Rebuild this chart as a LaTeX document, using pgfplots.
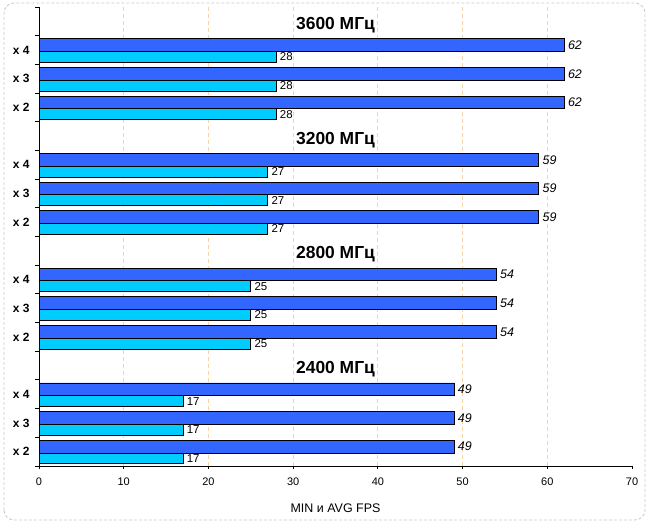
\documentclass[border=0pt]{standalone}
\usepackage{pgfplots}
\pgfplotsset{compat=1.18}
\usepackage{fontspec}
\setmainfont{Liberation Sans}
\definecolor{avgblue}{HTML}{3366FF}
\definecolor{mincyan}{HTML}{00CCFF}
\definecolor{gridor}{HTML}{F8D4A4}
\definecolor{framegray}{HTML}{C8C8C8}

\begin{document}
\begin{tikzpicture}
\path[use as bounding box] (-39bp,-58bp) rectangle (609bp,466bp);
\draw[framegray, line width=0.8bp, dash pattern=on 3bp off 2bp, rounded corners=10bp]
  (-35bp,-54bp) rectangle (606bp,463bp);
\begin{axis}[
  at={(0,0)}, anchor=south west,
  scale only axis, width=593bp, height=459bp,
  xbar,
  xmin=0, xmax=70, ymin=-0.5, ymax=15.5,
  axis x line*=bottom, axis y line*=left,
  axis line style={-, line width=0.9bp},
  tick align=outside,
  major tick length=3bp, minor tick length=4bp,
  tick style={black, line width=0.9bp},
  xtick={0,10,...,70},
  extra x ticks={10,20,...,60},
  extra x tick labels={},
  extra x tick style={grid=major, major tick length=0pt},
  major grid style={gridor, line width=0.9bp, dash pattern=on 4bp off 3bp},
  ytick={0,1,2,4,5,6,8,9,10,12,13,14},
  yticklabels={x 2,x 3,x 4,x 2,x 3,x 4,x 2,x 3,x 4,x 2,x 3,x 4},
  minor ytick={-0.5,0.5,...,15.5},
  ytick style={draw=none},
  minor y tick style={draw=black},
  yticklabel style={font=\bfseries\fontsize{12}{14}\selectfont, xshift=-3bp},
  xticklabel style={font=\fontsize{11}{13}\selectfont, yshift=-5bp},
  /pgf/number format/assume math mode=true,
  xlabel={MIN и AVG FPS},
  xlabel style={font=\fontsize{12.5}{14}\selectfont, at={(rel axis cs:0.5,0)}, anchor=center, yshift=-42bp},
  nodes near coords,
  nodes near coords style={anchor=west, black},
]
% AVG
\addplot[fill=avgblue, draw=black, line width=0.9bp, bar width=0.44, bar shift=0.174,
  nodes near coords style={font=\itshape\fontsize{12.5}{14}\selectfont}]
  coordinates {
  (49,0) (49,1) (49,2)
  (54,4) (54,5) (54,6)
  (59,8) (59,9) (59,10)
  (62,12) (62,13) (62,14)};
% MIN
\addplot[fill=mincyan, draw=black, line width=0.9bp, bar width=0.38, bar shift=-0.237,
  nodes near coords style={font=\fontsize{11.5}{13}\selectfont}]
  coordinates {
  (17,0) (17,1) (17,2)
  (25,4) (25,5) (25,6)
  (27,8) (27,9) (27,10)
  (28,12) (28,13) (28,14)};
\node[font=\bfseries\fontsize{17.5}{20}\selectfont] at (axis cs:35,2.87) {2400 МГц};
\node[font=\bfseries\fontsize{17.5}{20}\selectfont] at (axis cs:35,6.87) {2800 МГц};
\node[font=\bfseries\fontsize{17.5}{20}\selectfont] at (axis cs:35,10.87) {3200 МГц};
\node[font=\bfseries\fontsize{17.5}{20}\selectfont] at (axis cs:35,14.87) {3600 МГц};
\end{axis}
\end{tikzpicture}
\end{document}
